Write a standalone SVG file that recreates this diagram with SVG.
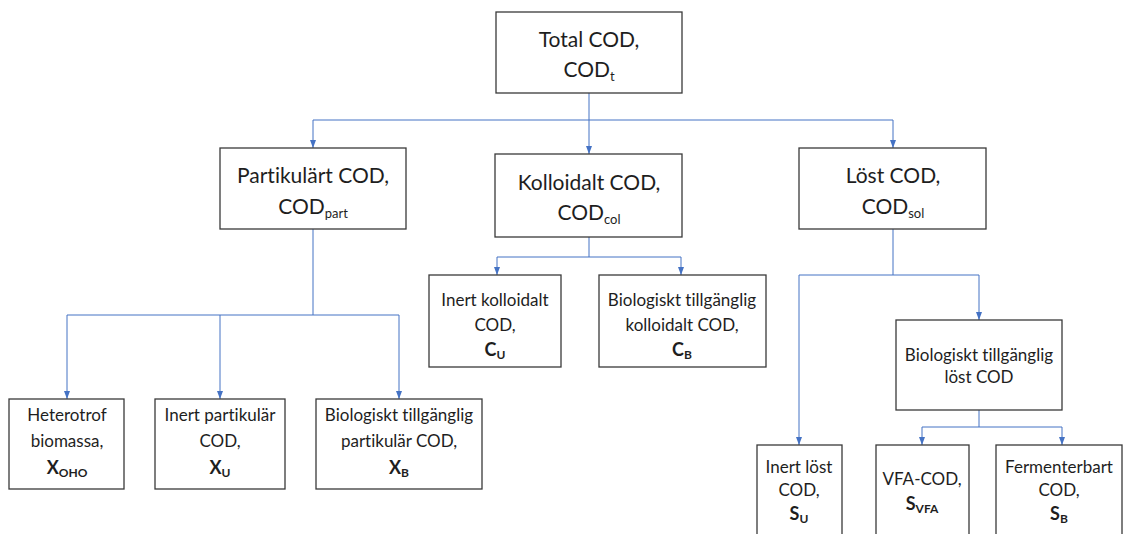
<svg xmlns="http://www.w3.org/2000/svg" width="1124" height="534" viewBox="0 0 1124 534">
<defs>
<style>
.box{fill:#fff;stroke:#3a3a3a;stroke-width:1.3}
.con{fill:none;stroke:#4472C4;stroke-width:1}
text{font-family:Lato,"Open Sans","Liberation Sans",sans-serif;fill:#1e1e1e;text-anchor:middle;font-variant-ligatures:none;font-feature-settings:"liga" 0,"clig" 0}
.big{font-size:21px}
.sm{font-size:17px}
.b{font-weight:bold;font-size:18px}
.sub{font-size:13px}
.bsub{font-size:12px;font-weight:bold}
</style>
<marker id="ah" viewBox="0 0 8 6" refX="8" refY="3" markerWidth="8" markerHeight="6" markerUnits="userSpaceOnUse" orient="auto">
<path d="M0,0 L8,3 L0,6 z" fill="#4472C4"/>
</marker>
</defs>
<rect width="1124" height="534" fill="#fff"/>
<g id="connectors">
<path class="con" d="M589,93 V120 M313,120 H893"/>
<path class="con" d="M313,120 V148" marker-end="url(#ah)"/>
<path class="con" d="M589,120 V154" marker-end="url(#ah)"/>
<path class="con" d="M893,120 V148" marker-end="url(#ah)"/>
<path class="con" d="M313,229 V315 M67,315 H399"/>
<path class="con" d="M67,315 V399" marker-end="url(#ah)"/>
<path class="con" d="M220,315 V399" marker-end="url(#ah)"/>
<path class="con" d="M399,315 V399" marker-end="url(#ah)"/>
<path class="con" d="M589,237 V257 M497,257 H681"/>
<path class="con" d="M497,257 V275" marker-end="url(#ah)"/>
<path class="con" d="M681,257 V275" marker-end="url(#ah)"/>
<path class="con" d="M893,229 V275 M799,275 H979"/>
<path class="con" d="M799,275 V445" marker-end="url(#ah)"/>
<path class="con" d="M979,275 V320" marker-end="url(#ah)"/>
<path class="con" d="M979,410 V427 M922,427 H1062"/>
<path class="con" d="M922,427 V445" marker-end="url(#ah)"/>
<path class="con" d="M1062,427 V445" marker-end="url(#ah)"/>
</g>
<g id="total">
<rect class="box" x="496" y="12" width="186" height="81"/>
<text class="big" x="589" y="47">Total COD,</text>
<text class="big" x="589" y="77">COD<tspan class="sub" dy="4">t</tspan></text>
</g>
<g id="partikulart">
<rect class="box" x="220" y="148" width="186" height="81"/>
<text class="big" x="313" y="183">Partikulärt COD,</text>
<text class="big" x="313" y="214">COD<tspan class="sub" dy="4">part</tspan></text>
</g>
<g id="kolloidalt">
<rect class="box" x="495" y="154" width="187" height="83"/>
<text class="big" x="589" y="190">Kolloidalt COD,</text>
<text class="big" x="589" y="220">COD<tspan class="sub" dy="4">col</tspan></text>
</g>
<g id="lost">
<rect class="box" x="799" y="148" width="187" height="81"/>
<text class="big" x="893" y="183">Löst COD,</text>
<text class="big" x="893" y="214">COD<tspan class="sub" dy="4">sol</tspan></text>
</g>
<g id="inert-kolloidalt">
<rect class="box" x="429" y="275" width="132" height="92"/>
<text class="sm" x="495" y="306">Inert kolloidalt</text>
<text class="sm" x="495" y="331">COD,</text>
<text class="b" x="495" y="356">C<tspan class="bsub" dy="3">U</tspan></text>
</g>
<g id="bio-kolloidalt">
<rect class="box" x="599" y="275" width="167" height="92"/>
<text class="sm" x="682" y="306">Biologiskt tillgänglig</text>
<text class="sm" x="682" y="331">kolloidalt COD,</text>
<text class="b" x="682" y="356">C<tspan class="bsub" dy="3">B</tspan></text>
</g>
<g id="heterotrof">
<rect class="box" x="9" y="399" width="115" height="90"/>
<text class="sm" x="67" y="421">Heterotrof</text>
<text class="sm" x="67" y="447">biomassa,</text>
<text class="b" x="67" y="474">X<tspan class="bsub" dy="3">OHO</tspan></text>
</g>
<g id="inert-partikular">
<rect class="box" x="155" y="399" width="130" height="90"/>
<text class="sm" x="220" y="421">Inert partikulär</text>
<text class="sm" x="220" y="447">COD,</text>
<text class="b" x="220" y="474">X<tspan class="bsub" dy="3">U</tspan></text>
</g>
<g id="bio-partikular">
<rect class="box" x="316" y="399" width="166" height="90"/>
<text class="sm" x="399" y="421">Biologiskt tillgänglig</text>
<text class="sm" x="399" y="447">partikulär COD,</text>
<text class="b" x="399" y="474">X<tspan class="bsub" dy="3">B</tspan></text>
</g>
<g id="bio-lost">
<rect class="box" x="896" y="320" width="166" height="90"/>
<text class="sm" x="979" y="361">Biologiskt tillgänglig</text>
<text class="sm" x="979" y="383">löst COD</text>
</g>
<g id="inert-lost">
<rect class="box" x="757" y="445" width="85" height="100"/>
<text class="sm" x="799" y="473">Inert löst</text>
<text class="sm" x="799" y="496">COD,</text>
<text class="b" x="799" y="520">S<tspan class="bsub" dy="3">U</tspan></text>
</g>
<g id="vfa">
<rect class="box" x="876" y="445" width="93" height="100"/>
<text class="sm" x="922" y="485">VFA-COD,</text>
<text class="b" x="922" y="510">S<tspan class="bsub" dy="3">VFA</tspan></text>
</g>
<g id="fermenterbart">
<rect class="box" x="996" y="445" width="126" height="100"/>
<text class="sm" x="1059" y="473">Fermenterbart</text>
<text class="sm" x="1059" y="496">COD,</text>
<text class="b" x="1059" y="520">S<tspan class="bsub" dy="3">B</tspan></text>
</g>
</svg>
